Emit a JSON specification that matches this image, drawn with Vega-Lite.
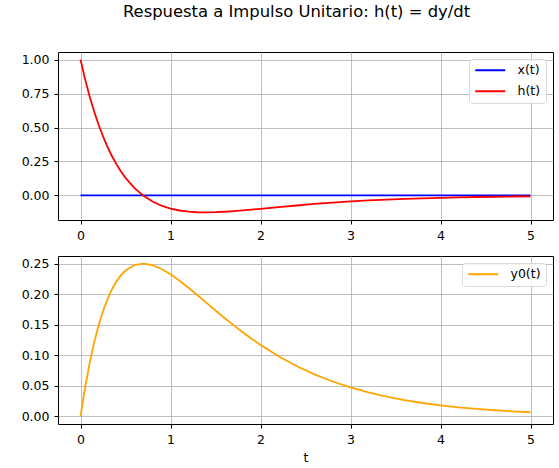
{
  "$schema": "https://vega.github.io/schema/vega-lite/v6.json",
  "padding": {"left": 20, "top": 4, "right": 5, "bottom": 4},
  "title": {
    "text": "Respuesta a Impulso Unitario: h(t) = dy/dt",
    "anchor": "middle",
    "frame": "group",
    "dx": -9,
    "fontSize": 16.4,
    "fontWeight": "normal",
    "color": "black",
    "offset": 31
  },
  "data": {
    "values": [
      {"t": 0, "x": 0, "h": 1, "y0": 0},
      {"t": 0.05, "x": 0, "h": 0.8584, "y0": 0.0464},
      {"t": 0.1, "x": 0, "h": 0.7326, "y0": 0.0861},
      {"t": 0.15, "x": 0, "h": 0.6209, "y0": 0.1199},
      {"t": 0.2, "x": 0, "h": 0.5219, "y0": 0.1484},
      {"t": 0.25, "x": 0, "h": 0.4343, "y0": 0.1723},
      {"t": 0.3, "x": 0, "h": 0.3568, "y0": 0.192},
      {"t": 0.35, "x": 0, "h": 0.2885, "y0": 0.2081},
      {"t": 0.4, "x": 0, "h": 0.2283, "y0": 0.221},
      {"t": 0.45, "x": 0, "h": 0.1755, "y0": 0.2311},
      {"t": 0.5, "x": 0, "h": 0.1292, "y0": 0.2387},
      {"t": 0.6, "x": 0, "h": 0.0536, "y0": 0.2476},
      {"t": 0.7, "x": 0, "h": -0.0034, "y0": 0.25},
      {"t": 0.8, "x": 0, "h": -0.0455, "y0": 0.2474},
      {"t": 0.9, "x": 0, "h": -0.076, "y0": 0.2413},
      {"t": 1.0, "x": 0, "h": -0.0972, "y0": 0.2325},
      {"t": 1.1, "x": 0, "h": -0.1113, "y0": 0.2221},
      {"t": 1.2, "x": 0, "h": -0.1198, "y0": 0.2105},
      {"t": 1.3, "x": 0, "h": -0.124, "y0": 0.1983},
      {"t": 1.4, "x": 0, "h": -0.125, "y0": 0.1858},
      {"t": 1.5, "x": 0, "h": -0.1236, "y0": 0.1733},
      {"t": 1.6, "x": 0, "h": -0.1204, "y0": 0.1611},
      {"t": 1.7, "x": 0, "h": -0.1159, "y0": 0.1493},
      {"t": 1.8, "x": 0, "h": -0.1107, "y0": 0.138},
      {"t": 1.9, "x": 0, "h": -0.1048, "y0": 0.1272},
      {"t": 2.0, "x": 0, "h": -0.0987, "y0": 0.117},
      {"t": 2.2, "x": 0, "h": -0.0862, "y0": 0.0985},
      {"t": 2.4, "x": 0, "h": -0.0743, "y0": 0.0825},
      {"t": 2.6, "x": 0, "h": -0.0632, "y0": 0.0688},
      {"t": 2.8, "x": 0, "h": -0.0534, "y0": 0.0571},
      {"t": 3.0, "x": 0, "h": -0.0448, "y0": 0.0473},
      {"t": 3.2, "x": 0, "h": -0.0374, "y0": 0.0391},
      {"t": 3.4, "x": 0, "h": -0.0311, "y0": 0.0323},
      {"t": 3.6, "x": 0, "h": -0.0258, "y0": 0.0266},
      {"t": 3.8, "x": 0, "h": -0.0214, "y0": 0.0219},
      {"t": 4.0, "x": 0, "h": -0.0176, "y0": 0.018},
      {"t": 4.2, "x": 0, "h": -0.0145, "y0": 0.0148},
      {"t": 4.4, "x": 0, "h": -0.012, "y0": 0.0121},
      {"t": 4.6, "x": 0, "h": -0.0099, "y0": 0.01},
      {"t": 4.8, "x": 0, "h": -0.0081, "y0": 0.0082},
      {"t": 5.0, "x": 0, "h": -0.0066, "y0": 0.0067}
    ]
  },
  "spacing": 13,
  "resolve": {"scale": {"color": "independent"}, "legend": {"color": "independent"}},
  "vconcat": [
    {
      "width": 495,
      "height": 168,
      "encoding": {
        "x": {
          "field": "t",
          "type": "quantitative",
          "scale": {"domain": [-0.25, 5.25], "nice": false, "zero": false},
          "axis": {"values": [0, 1, 2, 3, 4, 5], "format": "d", "title": null}
        },
        "color": {
          "type": "nominal",
          "scale": {"domain": ["x(t)", "h(t)"], "range": ["#0000ff", "#ff0000"]},
          "legend": {"title": null, "orient": "top-right"}
        }
      },
      "layer": [
        {
          "mark": {"type": "line", "strokeWidth": 1.8},
          "encoding": {
            "y": {
              "field": "x",
              "type": "quantitative",
              "scale": {"domain": [-0.18125, 1.05625], "nice": false, "zero": false},
              "axis": {"values": [0, 0.25, 0.5, 0.75, 1], "format": ".2f", "title": null}
            },
            "color": {"datum": "x(t)"}
          }
        },
        {
          "mark": {"type": "line", "strokeWidth": 1.8},
          "encoding": {
            "y": {"field": "h", "type": "quantitative"},
            "color": {"datum": "h(t)"}
          }
        }
      ]
    },
    {
      "width": 495,
      "height": 168,
      "mark": {"type": "line", "strokeWidth": 1.8},
      "encoding": {
        "x": {
          "field": "t",
          "type": "quantitative",
          "scale": {"domain": [-0.25, 5.25], "nice": false, "zero": false},
          "axis": {"values": [0, 1, 2, 3, 4, 5], "format": "d", "title": "t"}
        },
        "y": {
          "field": "y0",
          "type": "quantitative",
          "scale": {"domain": [-0.0125, 0.2625], "nice": false, "zero": false},
          "axis": {"values": [0, 0.05, 0.1, 0.15, 0.2, 0.25], "format": ".2f", "title": null}
        },
        "color": {
          "datum": "y0(t)",
          "type": "nominal",
          "scale": {"domain": ["y0(t)"], "range": ["#ffa500"]},
          "legend": {"title": null, "orient": "top-right"}
        }
      }
    }
  ],
  "config": {
    "font": "DejaVu Sans",
    "view": {"stroke": "black", "strokeWidth": 1},
    "axis": {
      "domain": false,
      "labelFontSize": 12.5,
      "labelColor": "black",
      "tickColor": "black",
      "tickSize": 4,
      "labelPadding": 5,
      "gridColor": "#b0b0b0",
      "gridWidth": 0.8,
      "titleFontSize": 12.5,
      "titleFontWeight": "normal",
      "titleColor": "black",
      "titlePadding": 6
    },
    "legend": {
      "symbolType": "M-1,0L5,0",
      "symbolSize": 100,
      "symbolStrokeWidth": 2,
      "labelFontSize": 12.5,
      "labelColor": "black",
      "labelOffset": 31,
      "rowPadding": 8,
      "padding": 5,
      "offset": 7,
      "strokeColor": "#d9d9d9",
      "fillColor": "rgba(255,255,255,0.8)",
      "cornerRadius": 3
    }
  }
}
